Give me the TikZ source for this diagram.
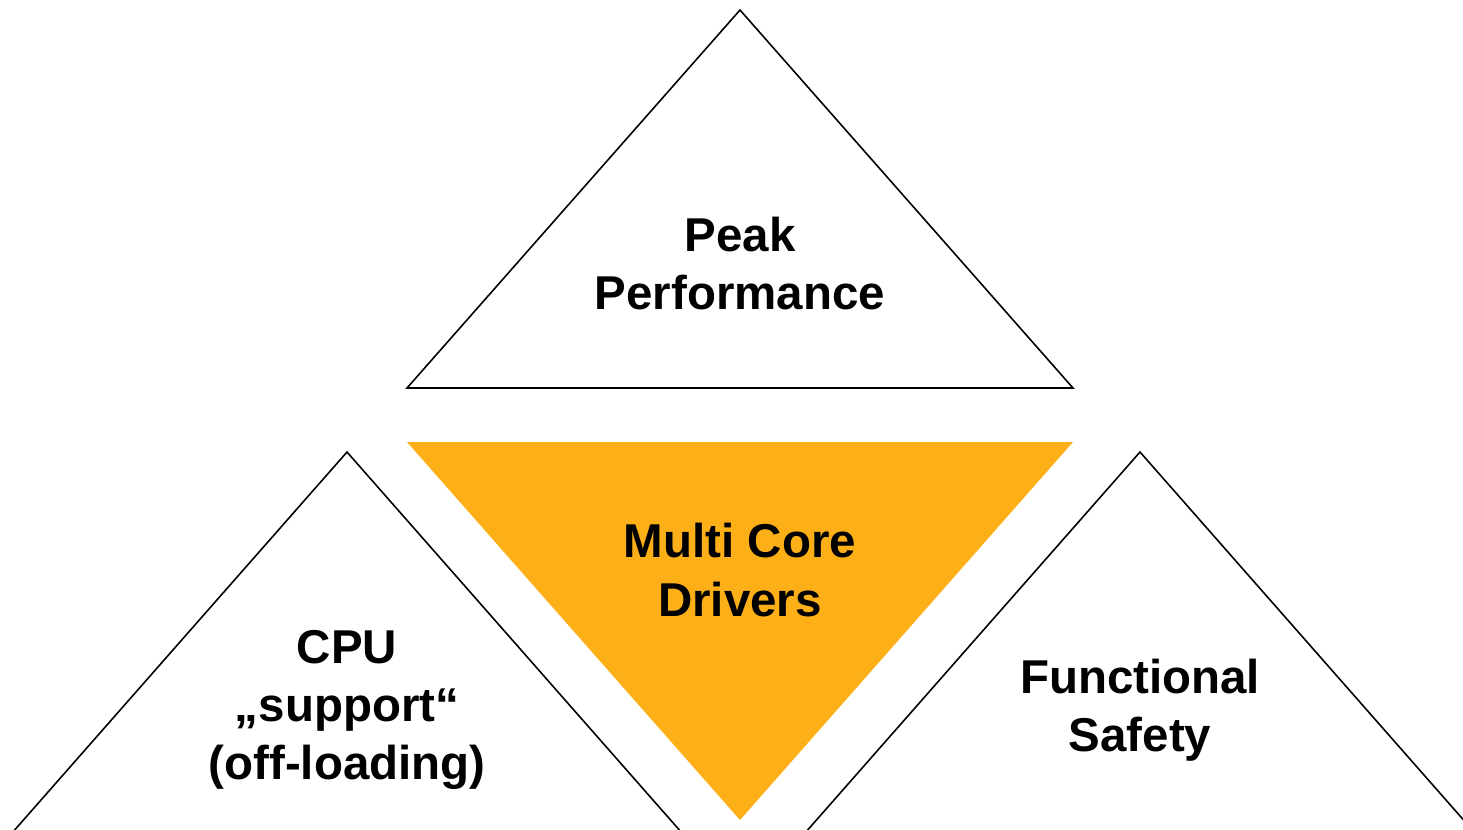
\documentclass[tikz,border=0pt]{standalone}
\usepackage{fontspec}
\setmainfont[Ligatures = NoCommon]{Liberation Sans}
\definecolor{coreorange}{RGB}{252,175,23}

\tikzset{
	tri/.style = {draw = black, line width = 0.45pt, line join = miter},
	corefill/.style = {fill = coreorange, draw = none},
	tritext/.style = {align = center, font = \fontsize{13.5}{16.5}\selectfont\bfseries, inner sep = 0pt}
}

\begin{document}
\begin{tikzpicture}[x = 0.01cm, y = -0.01cm]
	\useasboundingbox (0, 0) rectangle (1463, 829);
	\clip (0, 0) rectangle (1463, 829);
	% upper triangle
	\draw[tri] (740, 10) -- (407, 388) -- (1073, 388) -- cycle;
		\node[tritext] (peak) at (740, 264) {Peak\\Performance};
	% centre, upside down
	\fill[corefill] (407, 442) -- (1073, 442) -- (740, 820) -- cycle;
		\node[tritext] (multicore) at (740, 570) {Multi Core\\Drivers};
	% lower left and lower right
	\draw[tri] (347, 452) -- (12, 833) -- (682, 833) -- cycle;
		\node[tritext] (cpu) at (347, 710) {CPU\\„support“\\(off-loading)};
	\draw[tri] (1140, 452) -- (805, 833) -- (1475, 833) -- cycle;
		\node[tritext] (safety) at (1140, 710) {Functional\\Safety};
\end{tikzpicture}
\end{document}
